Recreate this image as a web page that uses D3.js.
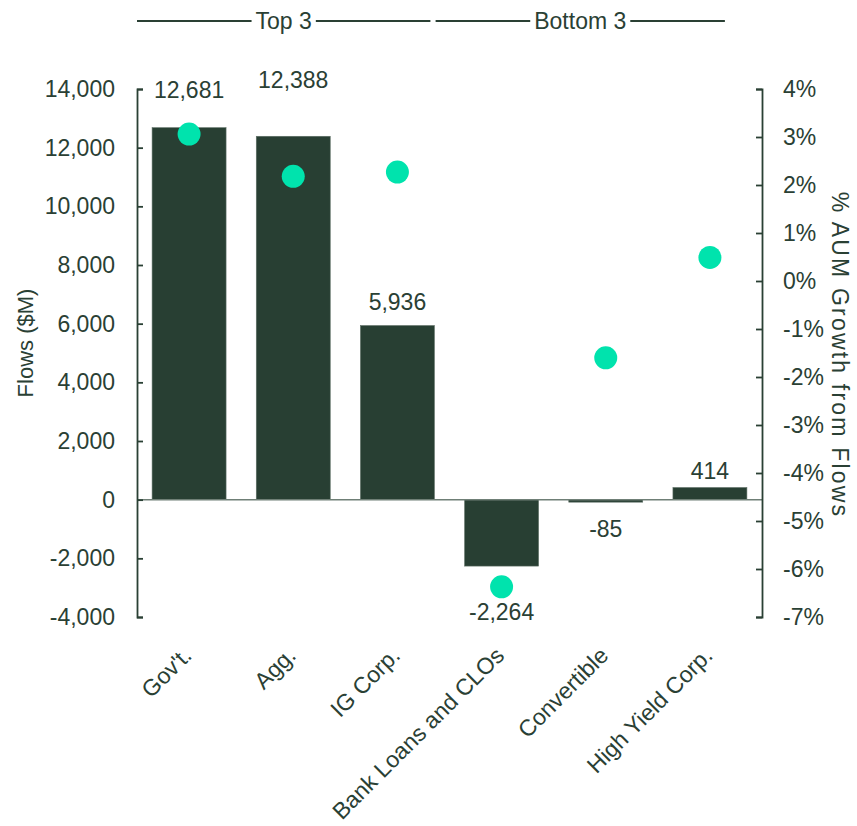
<!DOCTYPE html>
<html><head><meta charset="utf-8">
<script src="https://cdn.jsdelivr.net/npm/d3@7"></script>
<style>body{margin:0;background:#fff}text{font-family:"Liberation Sans",Arial,sans-serif;fill:#2a4034}</style>
</head><body><svg id="c" width="857" height="826"></svg>
<script>
const categories = ["Gov't.", "Agg.", "IG Corp.", "Bank Loans and CLOs", "Convertible", "High Yield Corp."];
const flows = [12681, 12388, 5936, -2264, -85, 414];
const aumGrowth = [3.06, 2.18, 2.27, -6.37, -1.60, 0.49];
const flowTicks = [-4000, -2000, 0, 2000, 4000, 6000, 8000, 10000, 12000, 14000];
const pctTicks = [-7, -6, -5, -4, -3, -2, -1, 0, 1, 2, 3, 4];
const groups = [{name: "Top 3", from: 0, to: 2}, {name: "Bottom 3", from: 3, to: 5}];
// label nudges (layout only, px beyond bar end)
const labelGap = [30, 48, 16, 54, 35, 9];

const dark = "#2a4034", bar = "#283f33", dot = "#00e3ad";
const svg = d3.select("#c");
const L = 137, R = 762, T = 89, B = 617;
const x = d3.scaleBand().domain(categories).range([L, R]).paddingInner(0.29).paddingOuter(0.145);
const y = d3.scaleLinear().domain([-4000, 14000]).range([B, T]);
const y2 = d3.scaleLinear().domain([-7, 4]).range([B, T]);
const fmt = v => d3.format(",")(v).replace("\u2212", "-");

// bars
svg.selectAll("rect.bar").data(flows).join("rect")
  .attr("x", (d, i) => x(categories[i])).attr("width", x.bandwidth())
  .attr("y", d => y(Math.max(0, d))).attr("height", d => Math.abs(y(d) - y(0)))
  .attr("fill", bar).attr("stroke", "#5d6e64").attr("stroke-width", 0.6);

// zero line
svg.append("line").attr("x1", L).attr("x2", R).attr("y1", y(0)).attr("y2", y(0))
  .attr("stroke", "#6f7f76").attr("stroke-width", 1.5);

// left axis
const gl = svg.append("g").attr("transform", `translate(${L},0)`)
  .call(d3.axisLeft(y).tickValues(flowTicks).tickFormat(fmt).tickSizeInner(-6).tickSizeOuter(-6).tickPadding(22));
// right axis
const gr = svg.append("g").attr("transform", `translate(${R},0)`)
  .call(d3.axisRight(y2).tickValues(pctTicks).tickFormat(d => String(d) + "%").tickSizeInner(-6).tickSizeOuter(-6).tickPadding(21));
[gl, gr].forEach(g => {
  g.select(".domain").attr("stroke", dark).attr("stroke-width", 1.8);
  g.selectAll(".tick line").attr("stroke", dark).attr("stroke-width", 1.8);
  g.selectAll(".tick text").attr("font-size", 23).attr("fill", dark)
    .style("font-family", '"Liberation Sans",Arial,sans-serif');
});

// dots
svg.selectAll("circle.dot").data(aumGrowth).join("circle")
  .attr("cx", (d, i) => x(categories[i]) + x.bandwidth() / 2).attr("cy", d => y2(d))
  .attr("r", 11.5).attr("fill", dot);

// data labels
svg.selectAll("text.lbl").data(flows).join("text")
  .attr("text-anchor", "middle").attr("font-size", 23)
  .attr("x", (d, i) => x(categories[i]) + x.bandwidth() / 2)
  .attr("y", (d, i) => d >= 0 ? y(d) - labelGap[i] : y(d) + labelGap[i])
  .text(d => fmt(d));

// category labels
svg.selectAll("text.cat").data(categories).join("text")
  .attr("text-anchor", "end").attr("font-size", 23)
  .attr("transform", d => `translate(${x(d) + x.bandwidth() / 2 + 4},${B + 40}) rotate(-45)`)
  .text(d => d);

// axis titles
svg.append("text").attr("font-size", 22).attr("text-anchor", "middle")
  .attr("transform", `translate(33,${(T + B) / 2 - 10}) rotate(-90)`).text("Flows ($M)");
svg.append("text").attr("font-size", 23).attr("text-anchor", "middle").attr("letter-spacing", 2.2)
  .attr("transform", `translate(832,${(T + B) / 2 + 2}) rotate(90)`).text("% AUM Growth from Flows");

// group brackets
const by = 21;
groups.forEach((g, k) => {
  const x0 = k === 0 ? L : x(categories[g.from]) - 29;
  const x1 = k === 0 ? x(categories[g.to]) + x.bandwidth() - 4 : x(categories[g.to]) + x.bandwidth() - 22;
  const cx = (x0 + x1) / 2;
  const t = svg.append("text").attr("x", cx).attr("y", by + 8).attr("text-anchor", "middle")
    .attr("font-size", 23).text(g.name);
  const w = t.node().getComputedTextLength();
  svg.append("line").attr("x1", x0).attr("x2", cx - w / 2 - 4).attr("y1", by).attr("y2", by)
    .attr("stroke", dark).attr("stroke-width", 1.8);
  svg.append("line").attr("x1", cx + w / 2 + 4).attr("x2", x1).attr("y1", by).attr("y2", by)
    .attr("stroke", dark).attr("stroke-width", 1.8);
});
</script></body></html>
